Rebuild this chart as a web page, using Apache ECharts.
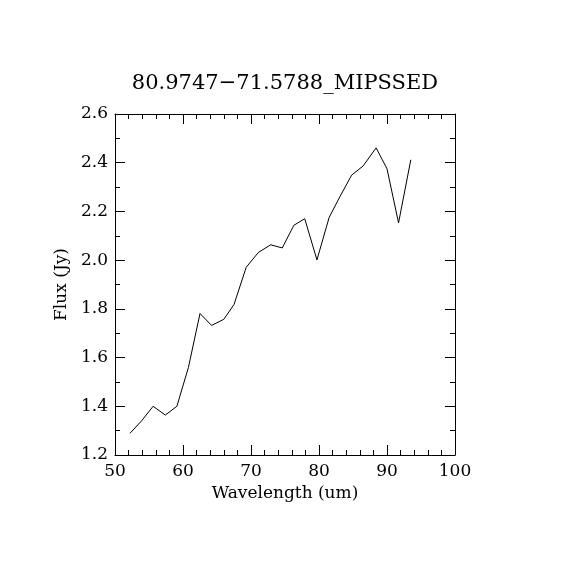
<!DOCTYPE html>
<html style="height: 100%">
<head>
<meta charset="utf-8">
<title>80.9747-71.5788_MIPSSED</title>
<script src="https://cdn.jsdelivr.net/npm/echarts@6/dist/echarts.min.js"></script>
</head>
<body style="height: 100%; margin: 0; background: #fff">
<div id="container" style="width: 570px; height: 570px"></div>
<script>
var wavelength = [52.2, 53.9, 55.6, 57.4, 59.1, 60.8, 62.5, 64.2, 66.0, 67.5, 69.3, 71.1,
    72.9, 74.6, 76.3, 77.9, 79.7, 81.5, 83.1, 84.8, 86.5, 88.4, 90.0, 91.7, 93.5];
var flux = [1.289, 1.34, 1.40, 1.364, 1.40, 1.56, 1.781, 1.732, 1.757, 1.818, 1.971, 2.032,
    2.063, 2.05, 2.143, 2.17, 2.001, 2.176, 2.262, 2.349, 2.387, 2.461, 2.375, 2.153, 2.412];

var font = 'DejaVu Serif';
var dom = document.getElementById('container');
var myChart = echarts.init(dom, null, { renderer: 'canvas' });

var points = wavelength.map(function (w, i) { return [w, flux[i]]; });

function axisBase(extra) {
    var base = {
        type: 'value',
        axisLine: { show: true, onZero: false, lineStyle: { color: '#000', width: 1 } },
        axisTick: { show: true, inside: true, length: 10, lineStyle: { color: '#000', width: 1 } },
        minorTick: { show: true, length: 5, lineStyle: { color: '#000', width: 1 } },
        splitLine: { show: false },
        minorSplitLine: { show: false }
    };
    return Object.assign(base, extra);
}

var option = {
    animation: false,
    backgroundColor: '#fff',
    title: {
        text: '80.9747\u221271.5788_MIPSSED',
        left: 'center',
        top: 68,
        textStyle: { fontFamily: font, fontSize: 21, fontWeight: 'normal', color: '#000' }
    },
    grid: { left: 115, right: 115, top: 114, bottom: 115 },
    xAxis: [
        axisBase({
            position: 'bottom',
            min: 50, max: 100, interval: 10,
            minorTick: { show: true, splitNumber: 5, length: 5, lineStyle: { color: '#000' } },
            name: 'Wavelength (um)',
            nameLocation: 'middle',
            nameGap: 28,
            nameTextStyle: { fontFamily: font, fontSize: 17, color: '#000' },
            axisLabel: { fontFamily: font, fontSize: 17, color: '#000', margin: 8 }
        }),
        axisBase({
            position: 'top',
            min: 50, max: 100, interval: 10,
            minorTick: { show: true, splitNumber: 5, length: 5, lineStyle: { color: '#000' } },
            axisLabel: { show: false }
        })
    ],
    yAxis: [
        axisBase({
            position: 'left',
            min: 1.2, max: 2.6, interval: 0.2,
            minorTick: { show: true, splitNumber: 2, length: 5, lineStyle: { color: '#000' } },
            name: 'Flux (Jy)',
            nameLocation: 'middle',
            nameGap: 43,
            nameTextStyle: { fontFamily: font, fontSize: 17, color: '#000' },
            axisLabel: {
                fontFamily: font, fontSize: 17, color: '#000', margin: 7,
                formatter: function (v) { return v.toFixed(1); }
            }
        }),
        axisBase({
            position: 'right',
            min: 1.2, max: 2.6, interval: 0.2,
            minorTick: { show: true, splitNumber: 2, length: 5, lineStyle: { color: '#000' } },
            axisLabel: { show: false }
        })
    ],
    series: [{
        type: 'line',
        data: points,
        xAxisIndex: 0,
        yAxisIndex: 0,
        showSymbol: false,
        lineStyle: { color: '#000', width: 1 }
    }]
};

myChart.setOption(option);
</script>
</body>
</html>
